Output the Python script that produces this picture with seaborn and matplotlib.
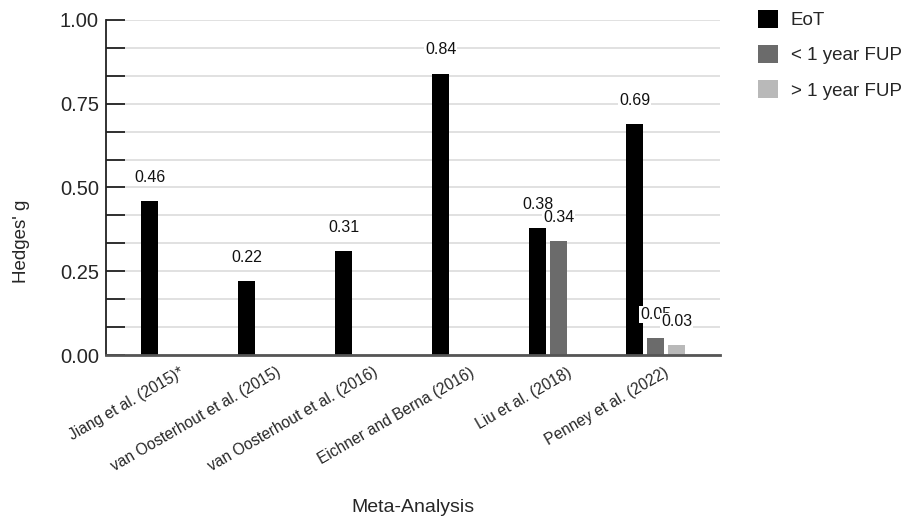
import numpy as np
import pandas as pd
import matplotlib.pyplot as plt
import matplotlib.transforms as mtransforms
import seaborn as sns
from matplotlib.ticker import MultipleLocator
from matplotlib.patches import Patch

# --- data ---
studies = ["Jiang et al. (2015)*", "van Oosterhout et al. (2015)",
           "van Oosterhout et al. (2016)", "Eichner and Berna (2016)",
           "Liu et al. (2018)", "Penney et al. (2022)"]
timepoints = ["EoT", "< 1 year FUP", "> 1 year FUP"]
eot = [0.46, 0.22, 0.31, 0.84, 0.38, 0.69]
fup_short = [np.nan, np.nan, np.nan, np.nan, 0.34, 0.05]
fup_long = [np.nan, np.nan, np.nan, np.nan, np.nan, 0.03]
colors = ["#000000", "#6b6b6b", "#b9b9b9"]

df = pd.DataFrame({
    "study": studies * 3,
    "timepoint": np.repeat(timepoints, len(studies)),
    "g": eot + fup_short + fup_long,
})

sns.set_theme(style="white")
plt.rcParams["font.family"] = ["Liberation Sans", "DejaVu Sans"]

fig = plt.figure(figsize=(9.04, 5.23), dpi=100)
ax = fig.add_axes([0.117, 0.321, 0.679, 0.641])

sns.barplot(data=df, x="study", y="g", hue="timepoint", hue_order=timepoints,
            palette=colors, width=0.65, gap=0.2, ax=ax, legend=False,
            saturation=1, edgecolor="none")

# value labels above each bar (white box so overlaps read like the original)
for cont in ax.containers:
    for bar in cont:
        h = bar.get_height()
        if np.isnan(h):
            continue
        ax.annotate(f"{h:.2f}", (bar.get_x() + bar.get_width() / 2, h),
                    xytext=(0, 17), textcoords="offset points",
                    ha="center", va="center", fontsize=11.5, color="#111111",
                    bbox=dict(boxstyle="square,pad=0.05", fc="white", ec="none"))

ax.set_ylim(0, 1.0)
ax.set_xlim(-0.67, 5.66)
ax.yaxis.set_major_locator(MultipleLocator(0.25))
ax.yaxis.set_minor_locator(MultipleLocator(0.25 / 3))
ax.yaxis.set_major_formatter(plt.FormatStrFormatter("%.2f"))
ax.grid(axis="y", which="both", color="#dedede", lw=1.3)
ax.set_axisbelow(True)
ax.tick_params(axis="y", which="both", direction="in", length=14, width=1.3,
               color="#222222", labelsize=14.5, pad=5, left=True)
ax.tick_params(axis="x", length=0, labelsize=11.2, pad=7)
shift = mtransforms.ScaledTranslation(8 / 100, 0, fig.dpi_scale_trans)
for lab in ax.get_xticklabels():
    lab.set_rotation(30)
    lab.set_ha("right")
    lab.set_rotation_mode("anchor")
    lab.set_transform(lab.get_transform() + shift)

for s in ["top", "right"]:
    ax.spines[s].set_visible(False)
ax.spines["left"].set_color("#222222")
ax.spines["left"].set_linewidth(1.3)
ax.spines["bottom"].set_color("#555555")
ax.spines["bottom"].set_linewidth(2)

ax.set_xlabel("Meta-Analysis", fontsize=14)
ax.xaxis.set_label_coords(0.5, -0.43)
ax.set_ylabel("Hedges' g", fontsize=13.5)
ax.yaxis.set_label_coords(-0.124, 0.34)

handles = [Patch(facecolor=c, edgecolor="none") for c in colors]
ax.legend(handles, timepoints, loc="upper left", bbox_to_anchor=(1.05, 1.052),
          frameon=False, fontsize=13.5, handlelength=1.1, handleheight=1.1,
          labelspacing=0.84, handletextpad=0.65, borderaxespad=0)

fig.savefig("out.png", dpi=100)
